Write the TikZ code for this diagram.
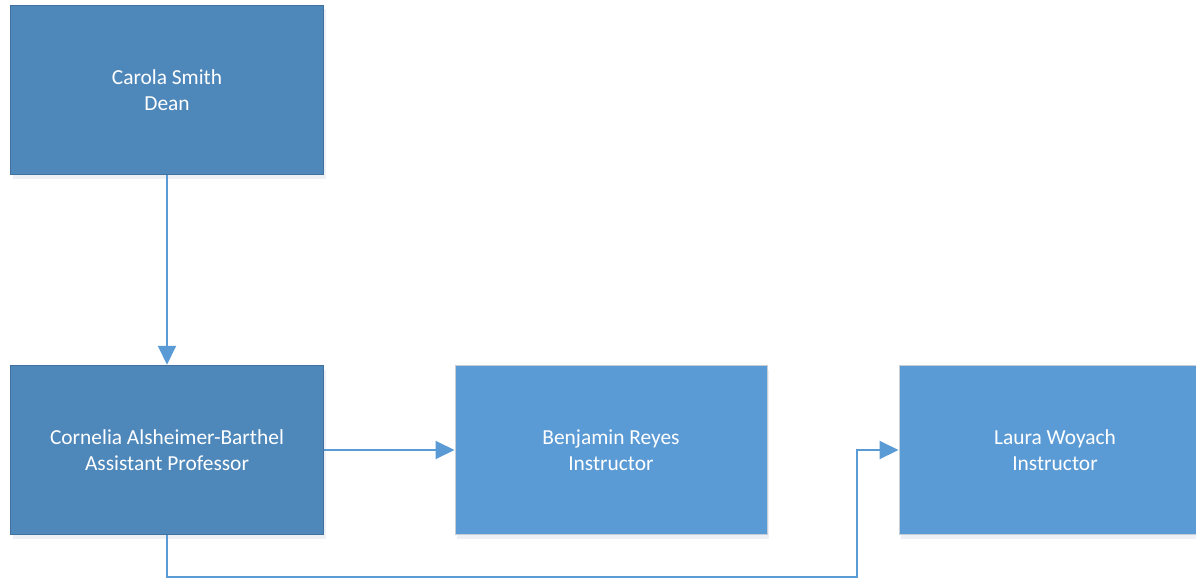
\documentclass[tikz,border=0pt]{standalone}
\usepackage{fontspec}
\setmainfont{Carlito}
\usetikzlibrary{arrows.meta,shadows}
\definecolor{darkfill}{HTML}{4E87BA}
\definecolor{darkedge}{HTML}{41719C}
\definecolor{lightfill}{HTML}{5B9BD5}
\definecolor{lightedge}{HTML}{C5CDD6}
\definecolor{conn}{HTML}{5B9BD5}
\definecolor{shade}{HTML}{9DB4CC}
\tikzset{
  box/.style={rectangle, minimum width=313pt, minimum height=169pt, inner sep=0pt,
    text=white, align=center, font=\fontsize{21.4}{26}\selectfont,
    drop shadow={shadow xshift=2pt, shadow yshift=-4pt, opacity=0.18, fill=shade}},
  darkbox/.style={box, fill=darkfill, draw=darkedge, line width=1.5pt},
  lightbox/.style={box, fill=lightfill, draw=lightedge, line width=1pt},
  conn/.style={draw=conn, line width=2pt, -{Triangle[length=19pt,width=18pt]}},
}
\begin{document}
\begin{tikzpicture}[x=1pt,y=-1pt]
\useasboundingbox (0,0) rectangle (1196,578);
\fill[white] (0,0) rectangle (1196,578);
\node[darkbox] (dean) at (167,90) {Carola Smith\\Dean};
\node[darkbox] (ap) at (167,450) {Cornelia Alsheimer-Barthel\\Assistant Professor};
\node[lightbox, minimum width=312pt] (br) at (611,450) {Benjamin Reyes\\Instructor};
\node[lightbox, minimum width=330pt] (lw) at (1064,450) {\hspace*{-18pt}Laura Woyach\\\hspace*{-18pt}Instructor};
\coordinate (c1) at (167,577);
\coordinate (c2) at (857,577);
\coordinate (c3) at (857,450);
\draw[conn] (dean.south) -- (ap.north);
\draw[conn] (ap.east) -- (br.west);
\draw[conn] (ap.south) -- (c1) -- (c2) -- (c3) -- (lw.west);
\end{tikzpicture}
\end{document}
